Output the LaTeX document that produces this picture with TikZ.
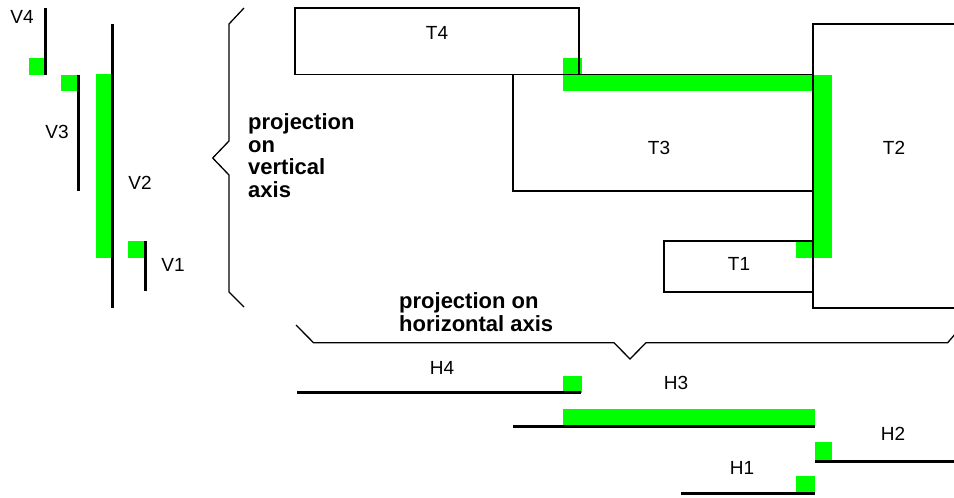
\documentclass[tikz,border=0pt]{standalone}
\usepackage{fontspec}
\setmainfont{Liberation Sans}
\begin{document}
\begin{tikzpicture}[x=1pt,y=-1pt,
  box/.style={draw=black,line width=1.6pt},
  seg/.style={draw=black,line width=3pt},
  hit/.style={fill=brightgreen,draw=none},
  lbl/.style={inner sep=0pt,font=\fontsize{19}{22}\selectfont},
  bold/.style={inner sep=0pt,align=left,font=\fontsize{22}{22.5}\selectfont\bfseries},
  brace/.style={draw=black,line width=1.3pt,line join=miter}]
\definecolor{brightgreen}{RGB}{0,255,0}
\useasboundingbox (0,0) rectangle (954,498);
% green overlaps (rectangles)
\fill[hit] (563,58) rectangle (582,74.5);
\fill[hit] (563,74.5) rectangle (813,91);
\fill[hit] (813,74.5) rectangle (832,258);
\fill[hit] (796,241) rectangle (813,258);
% rectangles
\draw[box] (295,8) rectangle (579,74.5);
\draw[box] (512.7,74.5) rectangle (813,191);
\draw[box] (813,23.7) rectangle (970,307.7);
\draw[box] (663.7,241) rectangle (813,291.7);
\node[lbl] (T4) at (437,33) {T4};
\node[lbl] (T3) at (659,148) {T3};
\node[lbl] (T2) at (894,148) {T2};
\node[lbl] (T1) at (739,264) {T1};
% vertical projections
\fill[hit] (29,58) rectangle (46,75);
\fill[hit] (61,75) rectangle (78,91);
\fill[hit] (96,74) rectangle (113,258);
\fill[hit] (128,241) rectangle (145.7,258);
\draw[seg] (45.7,8) -- (45.7,75);
\draw[seg] (78,75) -- (78,191);
\draw[seg] (112.7,24) -- (112.7,308);
\draw[seg] (145.7,241) -- (145.7,291);
\node[lbl] (V4) at (22,17) {V4};
\node[lbl] (V3) at (57,132) {V3};
\node[lbl] (V2) at (140,183) {V2};
\node[lbl] (V1) at (173,265) {V1};
% horizontal projections
\fill[hit] (562.5,376) rectangle (582,392.7);
\fill[hit] (562.5,409) rectangle (815,426.7);
\fill[hit] (815,442) rectangle (832,461);
\fill[hit] (796,476) rectangle (815,493);
\draw[seg] (297,392.7) -- (581,392.7);
\draw[seg] (513,426.7) -- (815,426.7);
\draw[seg] (815,461) -- (960,461);
\draw[seg] (681,493) -- (815,493);
\node[lbl] (H4) at (442,368) {H4};
\node[lbl] (H3) at (676,383) {H3};
\node[lbl] (H2) at (893,434) {H2};
\node[lbl] (H1) at (742,468) {H1};
% braces
\draw[brace] (244,8) -- (229,24) -- (229,141) -- (212.7,158) -- (229,175) -- (229,292) -- (244,307);
\draw[brace] (296,325) -- (313.5,342.7) -- (614,342.7) -- (630,359) -- (646,342.7) -- (947.7,342.7) -- (956,333);
\node[bold,anchor=north west] (vtext) at (248,113.5) {projection\\on\\vertical\\axis};
\node[bold,anchor=north west] (htext) at (399,292.5) {projection on\\horizontal axis};
\end{tikzpicture}
\end{document}
